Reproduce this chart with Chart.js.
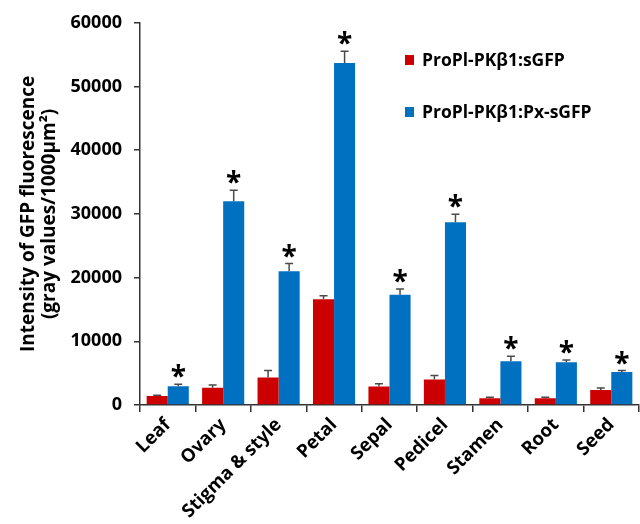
<!DOCTYPE html>
<html>
<head>
<meta charset="utf-8">
<script src="https://cdn.jsdelivr.net/npm/chart.js@4"></script>
<style>
  body { margin: 0; background: #fff; }
  #wrap { width: 640px; height: 524px; }
</style>
</head>
<body>
<div id="wrap"><canvas id="gfpChart" width="640" height="524"></canvas></div>
<script>
const tissues = ["Leaf", "Ovary", "Stigma & style", "Petal", "Sepal", "Pedicel", "Stamen", "Root", "Seed"];
const sgfpMeans = [1400, 2700, 4300, 16600, 2900, 4000, 1050, 1050, 2350];
const sgfpErr = [150, 450, 1100, 550, 450, 650, 150, 150, 300];
const pxMeans = [2950, 32000, 21000, 53700, 17300, 28700, 6850, 6700, 5200];
const pxErr = [300, 1700, 1200, 1850, 900, 1250, 800, 350, 200];
const significant = [true, true, true, true, true, true, true, true, true];
const seriesNames = ["ProPl-PKβ1:sGFP", "ProPl-PKβ1:Px-sGFP"];
const yMax = 60000;
const yStep = 10000;

const RED = "#cc0000";
const BLUE = "#0070c0";
const FONT = "'Open Sans', 'DejaVu Sans', sans-serif";

// error bars, asterisks and the legend inside the plot
const extras = {
  id: "extras",
  afterDatasetsDraw(chart) {
    const ctx = chart.ctx;
    const y = chart.scales.y;
    const errs = [sgfpErr, pxErr];
    const means = [sgfpMeans, pxMeans];
    ctx.save();
    ctx.strokeStyle = "#4a4a4a";
    ctx.lineWidth = 1.5;
    for (let d = 0; d < 2; d++) {
      const meta = chart.getDatasetMeta(d);
      meta.data.forEach((bar, i) => {
        const top = y.getPixelForValue(means[d][i] + errs[d][i]);
        ctx.beginPath();
        ctx.moveTo(bar.x, bar.y);
        ctx.lineTo(bar.x, top);
        ctx.moveTo(bar.x - 4, top);
        ctx.lineTo(bar.x + 4, top);
        ctx.stroke();
      });
    }
    // asterisks
    ctx.fillStyle = "#000";
    ctx.font = "bold 28px " + FONT;
    ctx.textAlign = "center";
    ctx.textBaseline = "alphabetic";
    chart.getDatasetMeta(1).data.forEach((bar, i) => {
      if (!significant[i]) return;
      const top = y.getPixelForValue(pxMeans[i] + pxErr[i]);
      ctx.fillText("*", bar.x, top + 2);
    });
    // legend
    const area = chart.chartArea;
    const lx = area.left + 265;
    const rows = [60, 112];
    const cols = [RED, BLUE];
    ctx.font = "bold 17.5px " + FONT;
    ctx.textAlign = "left";
    ctx.textBaseline = "middle";
    rows.forEach((ry, k) => {
      ctx.fillStyle = cols[k];
      ctx.fillRect(lx, ry - 5, 9, 10);
      ctx.fillStyle = "#000";
      ctx.fillText(seriesNames[k], lx + 17, ry + 1);
    });
    ctx.restore();
  }
};

new Chart(document.getElementById("gfpChart"), {
  type: "bar",
  data: {
    labels: tissues,
    datasets: [
      { label: seriesNames[0], data: sgfpMeans, backgroundColor: RED },
      { label: seriesNames[1], data: pxMeans, backgroundColor: BLUE }
    ]
  },
  options: {
    responsive: false,
    animation: false,
    devicePixelRatio: 1,
    barPercentage: 1,
    categoryPercentage: 0.76,
    layout: { padding: { top: 19, right: 1, left: 0, bottom: 0 } },
    plugins: {
      legend: { display: false },
      tooltip: { enabled: false }
    },
    scales: {
      x: {
        grid: { drawOnChartArea: false, offset: true, tickLength: 7, color: "#333", lineWidth: 1.5 },
        border: { color: "#333", width: 1.5 },
        ticks: {
          color: "#000",
          font: { family: FONT, size: 18.5, weight: "bold" },
          minRotation: 45,
          maxRotation: 45,
          padding: 2
        },
        afterFit(scale) { scale.height = 119; }
      },
      y: {
        min: 0,
        max: yMax,
        grid: { drawOnChartArea: false, tickLength: 6, color: "#333", lineWidth: 1.5 },
        border: { color: "#333", width: 1.5 },
        ticks: {
          stepSize: yStep,
          color: "#000",
          padding: 12,
          font: { family: FONT, size: 18, weight: "bold" },
          callback: (v) => String(v)
        },
        title: {
          display: true,
          text: ["Intensity of GFP fluorescence", "(gray values/1000μm²)"],
          color: "#000",
          font: { family: FONT, size: 19, weight: "bold", lineHeight: 1.12 },
          padding: { top: 18, bottom: 0 }
        },
        afterFit(scale) { scale.width = 140; }
      }
    }
  },
  plugins: [extras]
});
</script>
</body>
</html>
